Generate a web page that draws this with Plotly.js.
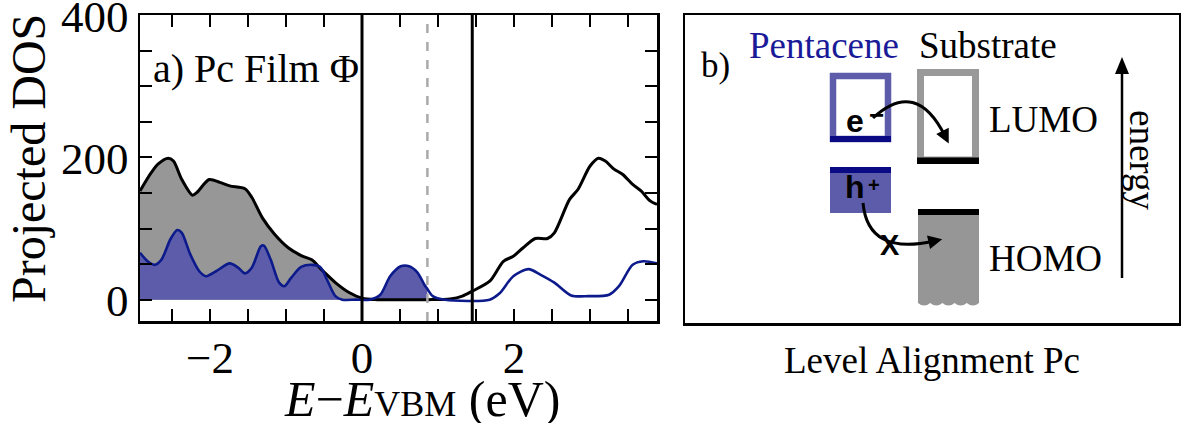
<!DOCTYPE html>
<html>
<head>
<meta charset="utf-8">
<script src="https://cdn.plot.ly/plotly-3.0.1.min.js"></script>
<style>html,body{margin:0;padding:0;background:#fff;} #chart{width:1181px;height:423px;}</style>
</head>
<body>
<div id="chart"></div>
<script>
// ---- Panel a) data: projected density of states ----
const energyTotal = [-2.92,-2.77,-2.68,-2.55,-2.48,-2.37,-2.23,-2.17,-2.01,-1.87,-1.74,-1.54,-1.45,-1.31,-1.15,-0.97,-0.80,-0.66,-0.53,-0.35,-0.17,0,0.19,0.55,0.87,1.16,1.32,1.45,1.68,1.86,1.99,2.12,2.28,2.44,2.53,2.73,2.84,3.0,3.11,3.20,3.31,3.43,3.56,3.67,3.79,3.88];
const dosTotal    = [153,179,191,199,195,169,147,151,169,165,160,156,144,115,92,73,62,56,42,24,10,2,0,0,0,1,5,12,26,54,61,73,86,86,94,141,155,188,199,195,184,176,162,153,139,134];
const energyPc = [-2.92,-2.82,-2.73,-2.64,-2.52,-2.43,-2.37,-2.26,-2.14,-2.05,-1.92,-1.74,-1.63,-1.54,-1.45,-1.33,-1.29,-1.2,-1.09,-1.02,-0.93,-0.80,-0.66,-0.55,-0.46,-0.35,-0.26,-0.08,0.1,0.24,0.37,0.51,0.62,0.73,0.82,0.86,0.93,1.09,1.68,1.81,1.99,2.19,2.35,2.53,2.75,2.98,3.25,3.38,3.56,3.70,3.88];
const dosPc    = [66,54,49,56,85,98,94,64,40,33,40,51,45,37,45,75,76,56,24,19,31,46,49,46,28,5,0,0,0,7,33,47,47,38,21,15,5,0,0,9,33,43,35,24,6,5,7,19,49,54,51];
const refLevels = {vbm: 0, fermi: 0.86, cbm: 1.45};
const xTickVals = [-2, 0, 2];
const xTickLabels = ["−2","0","2"];
const yTickVals = [0, 200, 400];
const yTickLabels = ["0","200","400"];

// ---- Panel b) schematic level positions (schematic units) ----
const pcLumo  = {x0: 830, x1: 891, top: 73, bottom: 142};
const subLumo = {x0: 917, x1: 979, top: 69, bottom: 164};
const pcHomo  = {x0: 830, x1: 891, top: 167, bottom: 213};
const subHomo = {x0: 918, x1: 979, top: 209, bottom: 303};

const NAVY = '#0a0a84', PCFILL = '#5c5caa', LINEBLUE = '#0c1a8c', GRAY = '#979797';

const fillMask = (xs, ys, lim) => { const X=[],Y=[]; xs.forEach((v,i)=>{ if(v<=lim+1e-9){X.push(v);Y.push(ys[i]);} }); return [X,Y]; };
const [gx, gy] = fillMask(energyTotal, dosTotal, refLevels.fermi + 0.01);
const [bx, by] = fillMask(energyPc, dosPc, refLevels.fermi);

const traces = [
  {x: gx, y: gy, type:'scatter', mode:'lines', fill:'tozeroy', fillcolor: GRAY, line:{width:0, shape:'spline', smoothing:0.8}, hoverinfo:'skip'},
  {x: bx, y: by, type:'scatter', mode:'lines', fill:'tozeroy', fillcolor: PCFILL, line:{width:0, shape:'spline', smoothing:0.8}, hoverinfo:'skip'},
  {x: energyTotal, y: dosTotal, type:'scatter', mode:'lines', line:{color:'#000', width:3, shape:'spline', smoothing:0.8}},
  {x: energyPc, y: dosPc, type:'scatter', mode:'lines', line:{color: LINEBLUE, width:2.6, shape:'spline', smoothing:0.8}},
  {x:[700], y:[300], xaxis:'x2', yaxis:'y2', mode:'markers', marker:{opacity:0}, hoverinfo:'skip'}
];

const W = 1181, H = 423;
const px = v => v / W, py = v => 1 - v / H;

const shapes = [];
shapes.push({type:'line', xref:'x', yref:'y domain', x0:refLevels.vbm, x1:refLevels.vbm, y0:0, y1:1, line:{color:'#000', width:3}});
shapes.push({type:'line', xref:'x', yref:'y domain', x0:refLevels.cbm, x1:refLevels.cbm, y0:0, y1:1, line:{color:'#000', width:3}});
shapes.push({type:'line', xref:'x', yref:'y domain', x0:refLevels.fermi, x1:refLevels.fermi, y0:0, y1:1, line:{color:'#aaaaaa', width:2.5, dash:'dash'}});

const S = (o) => Object.assign({xref:'x2', yref:'y2'}, o);
shapes.push(S({type:'rect', x0:pcLumo.x0+3, x1:pcLumo.x1-3, y0:pcLumo.top+3, y1:pcLumo.bottom-3, line:{color:PCFILL, width:6.5}, fillcolor:'rgba(0,0,0,0)'}));
shapes.push(S({type:'rect', x0:pcLumo.x0, x1:pcLumo.x1, y0:pcLumo.bottom-6, y1:pcLumo.bottom, line:{width:0}, fillcolor:NAVY}));
shapes.push(S({type:'rect', x0:subLumo.x0+3.5, x1:subLumo.x1-3.5, y0:subLumo.top+3.5, y1:subLumo.bottom-4, line:{color:'#999999', width:7}, fillcolor:'rgba(0,0,0,0)'}));
shapes.push(S({type:'rect', x0:subLumo.x0, x1:subLumo.x1, y0:subLumo.bottom-6.5, y1:subLumo.bottom, line:{width:0}, fillcolor:'#000'}));
shapes.push(S({type:'rect', x0:pcHomo.x0, x1:pcHomo.x1, y0:pcHomo.top+6, y1:pcHomo.bottom, line:{width:0}, fillcolor:PCFILL}));
shapes.push(S({type:'rect', x0:pcHomo.x0, x1:pcHomo.x1, y0:pcHomo.top, y1:pcHomo.top+6, line:{width:0}, fillcolor:NAVY}));
(function(){
  const n = 5, w = (subHomo.x1 - subHomo.x0) / n;
  let p = `M ${subHomo.x0},${subHomo.top} L ${subHomo.x1},${subHomo.top} L ${subHomo.x1},${subHomo.bottom}`;
  for (let i = 0; i < n; i++) {
    const xa = subHomo.x1 - i*w, xb = xa - w;
    p += ` Q ${(xa+xb)/2},${subHomo.bottom+5} ${xb},${subHomo.bottom}`;
  }
  p += ' Z';
  shapes.push(S({type:'path', path:p, line:{width:0}, fillcolor:'#969696'}));
})();
shapes.push(S({type:'rect', x0:subHomo.x0, x1:subHomo.x1, y0:subHomo.top, y1:subHomo.top+6, line:{width:0}, fillcolor:'#000'}));

function curvedArrow(p0, c, p1, len, hw) {
  shapes.push(S({type:'path', path:`M ${p0[0]},${p0[1]} Q ${c[0]},${c[1]} ${p1[0]},${p1[1]}`, line:{color:'#000', width:3}}));
  const dx = p1[0]-c[0], dy = p1[1]-c[1], L = Math.hypot(dx,dy), ux = dx/L, uy = dy/L;
  const tip = [p1[0]+ux*len*0.6, p1[1]+uy*len*0.6];
  const bx0 = tip[0]-ux*len, by0 = tip[1]-uy*len;
  const a = [bx0 - uy*hw, by0 + ux*hw], b = [bx0 + uy*hw, by0 - ux*hw];
  shapes.push(S({type:'path', path:`M ${tip[0]},${tip[1]} L ${a[0]},${a[1]} L ${b[0]},${b[1]} Z`, line:{width:0}, fillcolor:'#000'}));
}
curvedArrow([873,118], [916,78], [945,136], 14, 7);
curvedArrow([863,203], [868,256], [934,241], 14, 7);
shapes.push(S({type:'line', x0:1122, x1:1122, y0:278, y1:70, line:{color:'#000', width:2.5}}));
shapes.push(S({type:'path', path:'M 1122,57 L 1115,74 L 1129,74 Z', line:{width:0}, fillcolor:'#000'}));

const serif = 'Liberation Serif';
const sans = 'Liberation Sans';
const ann = (text, x, y, size, extra) => Object.assign({text, x:px(x), y:py(y), xref:'paper', yref:'paper', showarrow:false, font:{family:serif, size, color:'#000'}}, extra||{});

const annotations = [
  ann('a) Pc Film Φ', 151, 68, 40, {xanchor:'left', yanchor:'middle'}),
  ann('Projected DOS', 28, 159, 48, {textangle:-90, xanchor:'center', yanchor:'middle'}),
  ann('<i>E</i>−<i>E</i><span style="font-size:36px">VBM</span> (eV)', 422, 399, 50, {xanchor:'center', yanchor:'middle'}),
  ann('b)', 699, 65, 35, {xanchor:'left', yanchor:'middle'}),
  ann('Pentacene', 747, 45, 37, {xanchor:'left', yanchor:'middle', font:{family:serif, size:37, color:'#1a1a99'}}),
  ann('Substrate', 917, 45, 37, {xanchor:'left', yanchor:'middle'}),
  ann('LUMO', 987, 120, 37, {xanchor:'left', yanchor:'middle'}),
  ann('HOMO', 987, 258, 37, {xanchor:'left', yanchor:'middle'}),
  ann('energy', 1143, 160, 37, {textangle:90, xanchor:'center', yanchor:'middle'}),
  ann('Level Alignment Pc', 932, 360, 37, {xanchor:'center', yanchor:'middle'}),
  ann('<b>e</b>', 855, 121, 32, {xanchor:'center', yanchor:'middle', font:{family:sans, size:32, color:'#000'}}),
  ann('<b>−</b>', 876, 115, 26, {xanchor:'center', yanchor:'middle', font:{family:sans, size:26, color:'#000'}}),
  ann('<b>h</b>', 855, 187, 32, {xanchor:'center', yanchor:'middle', font:{family:sans, size:32, color:'#000'}}),
  ann('<b>+</b>', 874, 185, 20, {xanchor:'center', yanchor:'middle', font:{family:sans, size:20, color:'#000'}}),
  ann('<b>X</b>', 890, 245, 29, {xanchor:'center', yanchor:'middle', font:{family:sans, size:29, color:'#000'}})
];

const layout = {
  width: W, height: H,
  margin: {l:0, r:0, t:0, b:0},
  paper_bgcolor:'#fff', plot_bgcolor:'#fff',
  showlegend:false, hovermode:false,
  font:{family:serif, color:'#000'},
  xaxis: {domain:[px(140), px(657)], range:[-2.92, 3.88], tickmode:'array', tickvals:xTickVals, ticktext:xTickLabels,
    ticks:'inside', ticklen:12, tickwidth:2, tickcolor:'#000', showline:true, linecolor:'#000', linewidth:2.5, mirror:'ticks',
    showgrid:false, zeroline:false, tickfont:{family:serif, size:45}, ticklabeloverflow:'allow', ticklabelstandoff:-5,
    minor:{dtick:0.5, tick0:0, ticks:'inside', ticklen:12, tickwidth:2, tickcolor:'#000', showgrid:false}},
  yaxis: {domain:[py(321), py(15)], range:[-30, 400.4], tickmode:'array', tickvals:yTickVals, ticktext:yTickLabels,
    ticks:'inside', ticklen:12, tickwidth:2, tickcolor:'#000', showline:true, linecolor:'#000', linewidth:2.5, mirror:'ticks',
    showgrid:false, zeroline:false, tickfont:{family:serif, size:45}, ticklabeloverflow:'allow', ticklabelshift:1,
    minor:{dtick:50, tick0:0, ticks:'inside', ticklen:12, tickwidth:2, tickcolor:'#000', showgrid:false}},
  xaxis2: {domain:[px(685), px(1179)], range:[685, 1179], anchor:'y2', showticklabels:false, ticks:'', showgrid:false, zeroline:false,
    showline:true, mirror:true, linecolor:'#000', linewidth:2.5, fixedrange:true},
  yaxis2: {domain:[py(323), py(15)], range:[323, 15], anchor:'x2', showticklabels:false, ticks:'', showgrid:false, zeroline:false,
    showline:true, mirror:true, linecolor:'#000', linewidth:2.5, fixedrange:true},
  shapes, annotations
};

Plotly.newPlot('chart', traces, layout, {displayModeBar:false, staticPlot:true});
</script>
</body>
</html>
